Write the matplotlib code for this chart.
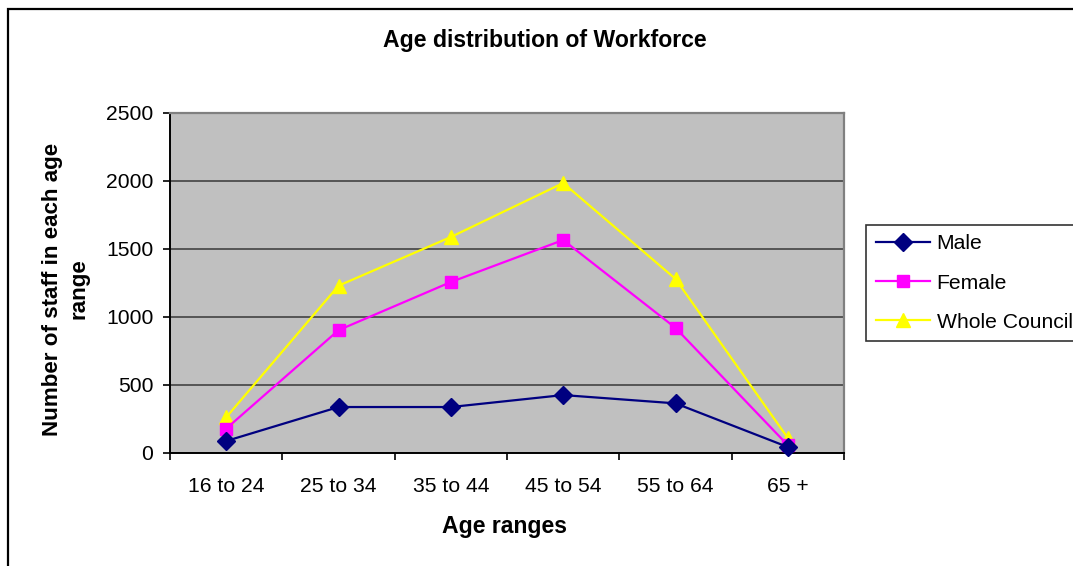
import matplotlib
matplotlib.use("Agg")
import matplotlib.pyplot as plt
from matplotlib.patches import Rectangle
import numpy as np

# Staff counts per age band
age_ranges = ["16 to 24", "25 to 34", "35 to 44", "45 to 54", "55 to 64", "65 +"]
male = [88, 338, 338, 426, 365, 44]
female = [179, 903, 1257, 1566, 920, 57]
whole_council = [262, 1230, 1588, 1985, 1280, 110]

plt.rcParams["font.family"] = ["Liberation Sans", "DejaVu Sans"]

fig = plt.figure(figsize=(10.73, 5.66), dpi=100)
fig.patch.set_facecolor("white")

# Outer chart frame (runs off the right and bottom edges)
frame = Rectangle((8 / 1073, -0.05), 1.2, 1 - 9 / 566 + 0.05,
                  transform=fig.transFigure, fill=False,
                  edgecolor="black", linewidth=1.6, zorder=0)
fig.patches.append(frame)

ax = fig.add_axes([170 / 1073, 113 / 566, 674 / 1073, 340 / 566])
ax.set_facecolor("#C0C0C0")

x = np.arange(len(age_ranges))
ax.plot(x, male, color="#000080", marker="D", markersize=9.5, linewidth=1.6,
        label="Male", zorder=5, clip_on=False)
ax.plot(x, female, color="#FF00FF", marker="s", markersize=9, linewidth=1.6,
        label="Female", zorder=4, clip_on=False)
ax.plot(x, whole_council, color="#FFFF00", marker="^", markersize=10.5, linewidth=1.6,
        label="Whole Council", zorder=3, clip_on=False)

ax.set_xlim(-0.5, len(age_ranges) - 0.5)
ax.set_ylim(0, 2500)
ax.set_yticks(np.arange(0, 2501, 500))
ax.yaxis.grid(True, color="#555555", linewidth=1.4)
ax.set_axisbelow(True)

ax.set_xticks(x)
ax.set_xticklabels(age_ranges, fontsize=15.2)
ax.set_xticks(np.arange(-0.5, len(age_ranges)), minor=True)
ax.tick_params(axis="x", which="major", length=0, pad=17)
ax.tick_params(axis="x", which="minor", length=5, width=1.2, color="black")
ax.tick_params(axis="y", length=5, width=1.2, pad=7, labelsize=15.2)

for side in ("top", "right"):
    ax.spines[side].set_color("#808080")
    ax.spines[side].set_linewidth(1.6)
for side in ("left", "bottom"):
    ax.spines[side].set_color("black")
    ax.spines[side].set_linewidth(1.4)

fig.text(545 / 1073, 1 - 41 / 566, "Age distribution of Workforce",
         ha="center", va="center", fontsize=16.6, fontweight="bold")
fig.text(505 / 1073, 1 - 527 / 566, "Age ranges",
         ha="center", va="center", fontsize=16.6, fontweight="bold")
fig.text(66 / 1073, 1 - 289 / 566, "Number of staff in each age\nrange",
         ha="center", va="center", rotation=90, fontsize=16.1,
         fontweight="bold", multialignment="center", linespacing=1.35)

leg = fig.legend(loc="upper left", bbox_to_anchor=(866 / 1073, 1 - 225 / 566),
                 fontsize=15.2, frameon=True, fancybox=False, handlelength=2.6,
                 handletextpad=0.3, labelspacing=0.95, borderpad=0.45,
                 borderaxespad=0)
leg.get_frame().set_edgecolor("black")
leg.get_frame().set_linewidth(1.2)

fig.savefig("out.png", dpi=100)
